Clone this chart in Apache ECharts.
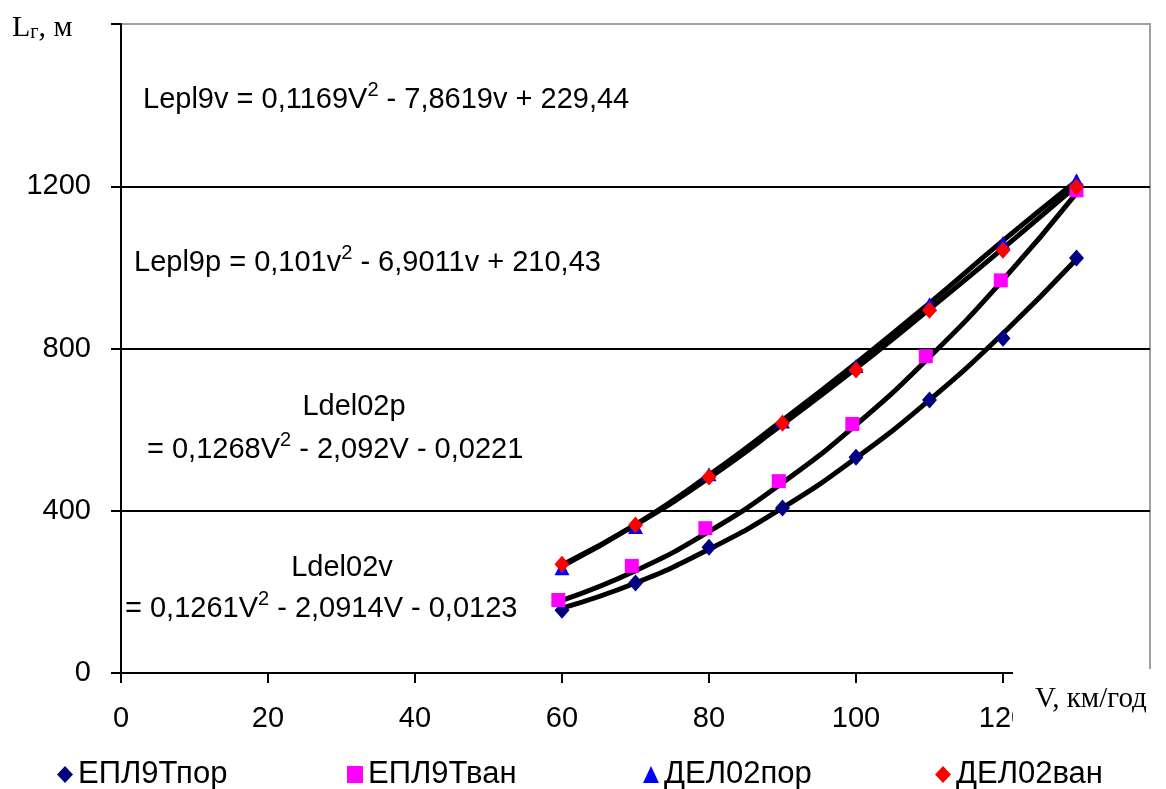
<!DOCTYPE html>
<html>
<head>
<meta charset="utf-8">
<script src="https://cdn.jsdelivr.net/npm/echarts@6/dist/echarts.min.js"></script>
<style>
  html, body { margin: 0; padding: 0; background: #fff; }
  #container { width: 1166px; height: 789px; }
</style>
</head>
<body>
<div id="container"></div>
<script>
// швидкості, км/год
const speedPor = [60, 70, 80, 90, 100, 110, 120, 130];
const speedVan = [59.5, 69.5, 79.5, 89.5, 99.5, 109.5, 119.7, 130];
// гальмівний шлях, м (точки)
const eplPor = [155, 222, 310, 407, 532, 673, 825, 1023];
const eplVan = [180, 264, 357, 473, 614, 781, 968, 1190];
const delPor = [258, 360, 490, 620, 757, 909, 1060, 1215];
const delVan = [268, 365, 483, 616, 747, 894, 1042, 1198];
// лінії тренду
const trendSpeed = [60, 70, 80, 90, 100, 110, 120, 130];
const trendEplPor = [160, 222, 305, 407, 530, 673, 837, 1020];
const trendEplVan = [179, 252, 349, 469, 612, 779, 969, 1183];
const trendDelPor = [263, 366, 488, 623, 764, 912, 1066, 1213];
const trendDelVan = [266, 365, 481, 613, 751, 897, 1047, 1201];

const seriesNames = ['ЕПЛ9Тпор', 'ЕПЛ9Тван', 'ДЕЛ02пор', 'ДЕЛ02ван'];
const yTicks = [0, 400, 800, 1200, 1600];

function pairs(xs, ys) {
  return xs.map(function (x, i) { return [x, ys[i]]; });
}

const font = 'Liberation Sans, Arial, sans-serif';
const serif = 'Liberation Serif, Times New Roman, serif';

function trend(ys) {
  return {
    type: 'line',
    data: pairs(trendSpeed, ys),
    smooth: true,
    showSymbol: false,
    symbol: 'none',
    silent: true,
    lineStyle: { color: '#000', width: 5 },
    z: 2
  };
}

function points(name, xs, ys, symbol, size, color) {
  return {
    name: name,
    type: 'scatter',
    data: pairs(xs, ys),
    symbol: symbol,
    symbolSize: size,
    itemStyle: { color: color, opacity: 1 },
    z: 3
  };
}

function legendAt(name, left) {
  return {
    data: [name],
    left: left,
    top: 754,
    itemWidth: 16,
    itemHeight: 17,
    itemGap: 4,
    selectedMode: false,
    textStyle: { fontFamily: font, fontSize: 31, color: '#000' }
  };
}

// текст рівняння: між частинами вставляється степінь 2
function eqText(parts, x, y, align) {
  let txt = parts.map(function (p, i) {
    return (i > 0 ? '{s|2}' : '') + '{a|' + p + '}';
  }).join('');
  return {
    type: 'text',
    x: x,
    y: y,
    z: 10,
    style: {
      text: txt,
      align: align || 'left',
      verticalAlign: 'middle',
      rich: {
        a: { fontFamily: font, fontSize: 29, fill: '#000', lineHeight: 34, verticalAlign: 'bottom' },
        s: { fontFamily: font, fontSize: 20, fill: '#000', lineHeight: 34, verticalAlign: 'top' }
      }
    }
  };
}

const chart = echarts.init(document.getElementById('container'));
chart.setOption({
  backgroundColor: '#fff',
  animation: false,
  grid: {
    left: 121, right: 16, top: 24, bottom: 116,
    outerBoundsMode: 'none',
    containLabel: false,
    show: true, borderColor: '#a0a0a0', borderWidth: 2,
    backgroundColor: 'transparent'
  },
  legend: [
    legendAt(seriesNames[0], 52),
    legendAt(seriesNames[1], 342),
    legendAt(seriesNames[2], 638),
    legendAt(seriesNames[3], 930)
  ],
  xAxis: {
    type: 'value',
    min: 0, max: 140, interval: 20,
    axisLine: { show: true, onZero: false, lineStyle: { color: '#000', width: 2 } },
    axisTick: { show: true, length: 10, lineStyle: { color: '#000', width: 2 } },
    axisLabel: { fontFamily: font, fontSize: 29, color: '#000', margin: 31 },
    splitLine: { show: false }
  },
  yAxis: {
    type: 'value',
    min: yTicks[0], max: yTicks[yTicks.length - 1], interval: 400,
    axisLine: { show: true, onZero: false, lineStyle: { color: '#000', width: 2 } },
    axisTick: { show: true, length: 10, lineStyle: { color: '#000', width: 2 } },
    axisLabel: {
      fontFamily: font, fontSize: 29, color: '#000', margin: 30,
      formatter: function (v) { return v === 1600 ? '' : String(v); }
    },
    splitLine: {
      show: true,
      lineStyle: { color: ['#000', '#000', '#000', '#000', '#a0a0a0'], width: 2 }
    }
  },
  series: [
    trend(trendEplPor),
    trend(trendEplVan),
    trend(trendDelPor),
    trend(trendDelVan),
    points(seriesNames[0], speedPor, eplPor, 'diamond', [15, 17], '#000080'),
    points(seriesNames[1], speedVan, eplVan, 'rect', [14, 14], '#ff00ff'),
    points(seriesNames[2], speedPor, delPor, 'triangle', [15, 14], '#0000ff'),
    points(seriesNames[3], speedPor, delVan, 'diamond', [15, 17], '#ff0000')
  ],
  graphic: [
    // біла підкладка під підписом осі V
    {
      type: 'rect',
      shape: { x: 1013, y: 669, width: 153, height: 70 },
      style: { fill: '#fff' },
      z: 9
    },
    {
      type: 'text', x: 1035, y: 699, z: 10,
      style: {
        text: 'V, км/год', fontFamily: serif, fontSize: 29, fill: '#000',
        verticalAlign: 'middle'
      }
    },
    {
      type: 'text', x: 12, y: 28, z: 10,
      style: {
        text: '{a|L}{b|г}{a|, м}',
        verticalAlign: 'middle',
        rich: {
          a: { fontFamily: serif, fontSize: 30, fill: '#000', verticalAlign: 'bottom' },
          b: { fontFamily: serif, fontSize: 20, fill: '#000', verticalAlign: 'bottom' }
        }
      }
    },
    eqText(['Lepl9v = 0,1169V', ' - 7,8619v + 229,44'], 143, 97),
    eqText(['Lepl9p = 0,101v', ' - 6,9011v + 210,43'], 134, 260),
    eqText(['Ldel02p'], 354, 404, 'center'),
    eqText(['= 0,1268V', ' - 2,092V - 0,0221'], 147, 447),
    eqText(['Ldel02v'], 342, 565, 'center'),
    eqText(['= 0,1261V', ' - 2,0914V - 0,0123'], 125, 606)
  ]
});
</script>
</body>
</html>
